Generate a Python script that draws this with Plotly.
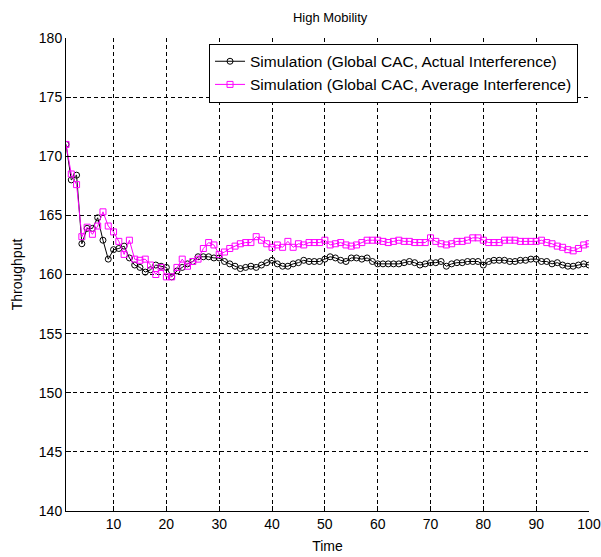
import plotly.graph_objects as go

time = list(range(1, 101))

actual = [
    171.0, 168.0, 168.4, 162.6, 163.9, 163.9, 164.8, 162.9, 161.3, 162.1,
    162.2, 162.4, 161.4, 160.8, 160.6, 160.2, 160.4, 160.8, 160.7, 160.6,
    159.8, 160.3, 160.6, 160.9, 161.1, 161.5, 161.5, 161.5, 161.4, 161.4,
    161.1, 160.9, 160.7, 160.5, 160.6, 160.7, 160.6, 160.8, 161.0, 161.2,
    160.9, 160.7, 160.7, 160.9, 161.0, 161.2, 161.1, 161.1, 161.1, 161.3,
    161.5, 161.4, 161.2, 161.1, 161.4, 161.4, 161.3, 161.4, 161.1, 160.9,
    160.9, 160.9, 160.9, 160.9, 161.0, 161.1, 161.0, 160.8, 160.9, 161.0,
    161.0, 161.1, 160.7, 160.9, 161.0, 161.0, 161.1, 161.1, 161.1, 160.8,
    161.1, 161.2, 161.2, 161.2, 161.1, 161.1, 161.2, 161.2, 161.3, 161.3,
    161.1, 161.1, 160.9, 161.0, 160.8, 160.7, 160.7, 160.8, 160.9, 160.8,
]

average = [
    171.0, 168.5, 167.6, 163.2, 164.0, 163.4, 164.1, 165.3, 164.1, 163.6,
    162.8, 161.7, 162.9, 161.3, 161.2, 161.3, 160.8, 160.0, 160.6, 159.8,
    159.8, 160.6, 161.3, 160.7, 161.1, 161.3, 162.2, 162.7, 162.5, 161.7,
    161.9, 162.2, 162.4, 162.6, 162.7, 162.7, 163.2, 162.9, 162.6, 162.3,
    162.5, 162.3, 162.8, 162.3, 162.6, 162.5, 162.7, 162.7, 162.7, 162.9,
    162.5, 162.6, 162.7, 162.5, 162.4, 162.5, 162.7, 162.9, 162.9, 162.9,
    162.8, 162.7, 162.8, 162.9, 162.8, 162.8, 162.7, 162.7, 162.7, 163.1,
    162.8, 162.6, 162.5, 162.6, 162.8, 162.8, 162.9, 163.1, 163.1, 162.9,
    162.7, 162.7, 162.7, 162.9, 162.9, 162.9, 162.8, 162.8, 162.8, 162.8,
    162.9, 162.7, 162.6, 162.4, 162.3, 162.1, 162.0, 162.2, 162.5, 162.6,
]

x_ticks = [10, 20, 30, 40, 50, 60, 70, 80, 90, 100]
y_ticks = [140, 145, 150, 155, 160, 165, 170, 175, 180]

FONT = "Liberation Sans, Arial, sans-serif"

fig = go.Figure()
fig.add_trace(go.Scatter(
    x=time, y=actual, mode="lines+markers",
    name="Simulation (Global CAC, Actual Interference)",
    line=dict(color="black", width=1),
    marker=dict(symbol="circle-open", size=6, color="black", line=dict(width=1)),
))
fig.add_trace(go.Scatter(
    x=time, y=average, mode="lines+markers",
    name="Simulation (Global CAC, Average Interference)",
    line=dict(color="#ff00ff", width=1),
    marker=dict(symbol="square-open", size=6, color="#ff00ff", line=dict(width=1)),
))

axis_common = dict(
    showgrid=True, gridcolor="black", gridwidth=1, griddash="4px,3px",
    showline=True, linecolor="black", linewidth=1,
    ticks="inside", ticklen=5, tickcolor="black",
    zeroline=False, automargin=False,
    tickfont=dict(family=FONT, size=14, color="black"),
)

fig.update_xaxes(range=[1, 100], tickvals=x_ticks,
                 title=dict(text="Time", font=dict(family=FONT, size=14, color="black"), standoff=10),
                 **axis_common)
fig.update_yaxes(range=[140, 180], tickvals=y_ticks,
                 title=dict(text="Throughput", font=dict(family=FONT, size=14, color="black"), standoff=12),
                 **axis_common)

fig.update_layout(
    width=601, height=557,
    margin=dict(l=66, r=12, t=38, b=46),
    paper_bgcolor="white", plot_bgcolor="white",
    title=dict(text="High Mobility", x=0.505, xref="paper", y=0.968, yref="container",
               yanchor="middle", font=dict(family=FONT, size=13, color="black")),
    legend=dict(x=0.979, y=0.988, xanchor="right", yanchor="top",
                bgcolor="white", bordercolor="black", borderwidth=1,
                font=dict(family=FONT, size=15.5, color="black"),
                itemwidth=30),
    showlegend=True,
)

fig.write_html("out.html", config={"displayModeBar": False},
               post_script="document.body.style.margin='0px';")
